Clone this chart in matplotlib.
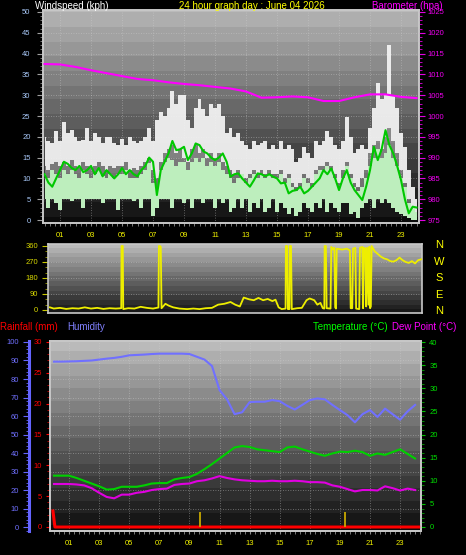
import numpy as np
import matplotlib.pyplot as plt
from matplotlib.ticker import MultipleLocator

W, H = 466, 555
plt.rcParams['font.family'] = ['Liberation Sans', 'DejaVu Sans']

# ---- wind (kph), 15-minute samples 00:00 .. 24:00
wind_hours = np.arange(0, 24.01, 0.25)
gust_hi = [20, 19, 18.5, 21.5, 19, 23.6, 21, 21.6, 20, 19, 19.2, 22,
           19, 21, 20, 18.5, 20, 20, 18.5, 18, 19.5, 18, 20, 19,
           18.5, 19, 20, 22, 19, 24, 26, 25, 27, 31, 28, 30,
           30, 24, 22, 27, 29, 26.6, 25, 28, 27, 28, 25, 21,
           22, 20, 21, 19, 18, 17, 19, 18, 18.6, 19, 17, 18,
           17, 19, 17, 18, 17, 14, 15, 17.6, 16, 15, 19, 18,
           19, 21.5, 20, 18, 17, 19, 24.8, 20, 16, 17, 18, 17,
           22, 27, 33, 29, 30, 42, 30, 27, 21, 17.6, 12, 8, 5]
gust_lo = [13, 12, 13.5, 14, 13, 14, 13, 14.5, 13, 12.5, 14, 13,
           12.5, 13, 14, 13, 12, 13, 12.5, 13, 13, 14, 12, 12.5,
           12, 13, 14, 15, 12, 10, 14, 16, 17, 18, 16, 17,
           15, 14, 17, 18, 16, 17, 15, 16, 15, 16, 14, 13,
           12, 11, 12, 11, 10, 11, 12, 11, 12, 11, 12, 11,
           11, 12, 10, 11, 9, 8, 9, 11, 10, 9, 12, 13,
           13, 14, 13, 11, 9, 12, 14, 11, 9, 8, 10, 12,
           16, 18, 19, 17, 20, 22, 19, 16, 12, 9, 5, 3, 2]
wind_hi = [11, 10, 12, 11, 10, 12, 11, 12, 11, 10, 12, 11,
           10, 11, 12, 10.5, 10, 11, 10, 11, 11, 12, 10, 10,
           10, 11, 12, 13.7, 9, 8, 12, 14, 15, 14.5, 13, 14,
           14, 12, 14, 15, 14, 15, 13, 14, 13, 14, 12, 11,
           10, 9, 10, 11, 9, 10, 11, 10, 11, 10, 11, 10,
           10, 11, 9, 10, 8, 7, 8, 10, 9, 8, 11, 12,
           12, 13, 12, 10, 8, 10, 13, 10, 8, 7, 8, 10,
           13, 15, 17, 15, 16, 18, 15, 13, 10, 8, 4, 3, 2]
wind_lo = [5, 3, 5, 4, 2.5, 5, 5, 4.5, 5, 5, 3, 5,
           5, 5, 5, 4, 5, 5, 5, 2.5, 5, 5, 5, 4.5,
           5, 3, 5, 5, 1, 3, 5, 5, 5, 3, 5, 5,
           4, 5, 3, 5, 5, 4, 5, 5, 3, 5, 4, 5,
           2, 3, 5, 3, 5, 2, 4, 3, 5, 2, 3, 5,
           2, 4, 3, 1.5, 3, 1, 2, 4, 3, 2, 4, 3,
           5, 2, 4, 3, 2, 4, 4, 1.5, 2, 0.5, 3, 4,
           5, 3, 5, 4, 5, 4, 3, 2, 1.5, 1, 0.5, 0, 0]
wind_avg = [11, 9, 8, 10, 12, 14, 13.5, 12.5, 12, 13, 11.5, 12,
            13, 11, 12.5, 10.5, 12, 11, 10, 11, 12.5, 11, 12, 11,
            10.5, 12, 13, 15, 14, 6, 12, 14, 16, 19, 16.8, 17,
            17.6, 14.4, 16, 18.4, 18, 16.5, 16, 15, 14.4, 15, 16, 14,
            10.4, 11, 11.2, 10, 9, 8, 9.5, 11.2, 11, 10.5, 11, 10.4,
            10, 8.8, 9, 6.4, 7, 7.2, 8, 6.4, 7, 8, 9, 10,
            12, 11, 12.4, 10, 7.2, 10, 12, 9, 7.2, 6, 4.8, 8,
            12, 17.6, 14.4, 17, 21.6, 18, 16, 13, 9.6, 5, 1.6, 3.2, 3]

# ---- barometer (hPa), hourly
baro_hours = list(range(25))
baro = [1012.5, 1012.4, 1011.8, 1011.0, 1010.3, 1009.6, 1008.9, 1008.6, 1008.1,
        1007.7, 1007.4, 1007.0, 1006.6, 1005.9, 1004.4, 1004.5, 1004.7, 1004.5,
        1003.6, 1003.6, 1004.5, 1005.2, 1005.2, 1004.6, 1004.3]

# ---- wind direction (degrees)
dir_hours = [0.35, 0.6, 1.0, 1.4, 1.8, 2.2, 2.6, 3.0, 3.4, 3.8, 4.2, 4.6, 4.95, 4.97,
             5.05, 5.08, 5.4, 5.8, 6.2, 6.6, 7.0, 7.35, 7.38, 7.45, 7.5, 7.55, 7.8, 8.0,
             8.3, 8.7, 9.2, 9.6, 10.0, 10.4, 10.8, 11.2, 11.6, 12.0, 12.3, 12.6, 12.85,
             13.2, 13.5, 13.8, 14.1, 14.4, 14.7, 14.9, 15.1, 15.3, 15.55, 15.57, 15.65,
             15.7, 15.8, 15.82, 15.9, 15.95, 16.3, 16.6, 16.9, 17.1, 17.4, 17.6, 17.8,
             17.95, 18.05, 18.07, 18.15, 18.2, 18.45, 18.5, 18.6, 18.7, 18.75, 18.8,
             18.85, 19.2, 19.5, 19.7, 19.75, 19.85, 19.9, 20.05, 20.1, 20.3, 20.35,
             20.5, 20.55, 20.6, 20.7, 20.75, 20.8, 20.9, 20.95, 21.0, 21.05, 21.1,
             21.3, 21.5, 21.7, 21.9, 22.1, 22.3, 22.5, 22.7, 22.9, 23.1, 23.3, 23.5,
             23.7, 23.9, 24.1, 24.3]
dir_deg = [15, 8, 12, 6, 10, 8, 15, 8, 12, 6, 10, 8, 10, 360,
           360, 5, 10, 8, 18, 12, 8, 14, 360, 360, 355, 10, 35, 25,
           15, 8, 5, 8, 5, 10, 12, 30, 35, 45, 30, 20, 70,
           60, 55, 68, 55, 62, 50, 58, 15, 5, 8, 360, 360,
           5, 5, 360, 360, 5, 10, 12, 55, 65, 55, 30, 40,
           10, 8, 360, 360, 10, 8, 355, 340, 350, 15, 8,
           345, 340, 345, 335, 10, 10, 345, 350, 8, 5, 350,
           355, 10, 350, 345, 20, 350, 30, 355, 10, 20, 360,
           330, 315, 300, 290, 285, 275, 272, 280, 295, 280, 270, 265,
           275, 262, 280, 285]

# ---- humidity, temperature, dew point: half-hourly
th_hours = np.arange(0, 24.01, 0.5)
humidity = [89.4, 89.4, 89.5, 89.6, 89.8, 90, 90.5, 91, 91.4, 92, 92.8, 93, 93.2,
            93.5, 93.7, 93.7, 93.7, 93.7, 93.5, 92, 90.5, 87, 74, 69, 61, 62, 67.5,
            67.7, 67.7, 68.6, 68, 65.5, 63.5, 66, 68.6, 69.5, 69, 66, 63.2, 60.5,
            56.6, 61, 63.2, 59.5, 64, 61, 58, 62.5, 66]
temperature = [11.1, 11.1, 11.1, 10.6, 10.0, 9.4, 8.8, 8.1, 8.2, 8.7, 8.7, 8.7, 9.0,
               9.4, 9.5, 9.5, 10.3, 10.6, 10.8, 11.5, 12.5, 13.6, 14.8, 16.0, 17.2,
               17.5, 17.3, 16.8, 16.6, 16.4, 16.2, 17.2, 17.4, 16.8, 16.3, 15.8, 15.4,
               15.9, 16.3, 16.2, 16.5, 16.2, 15.4, 15.9, 15.6, 16.2, 16.8, 15.8, 14.8]
dew_point = [9.3, 9.3, 9.3, 9.2, 9.0, 8.4, 7.4, 6.5, 6.2, 7.0, 7.0, 7.4, 7.6, 8.0,
             8.2, 8.3, 9.1, 9.3, 9.4, 9.9, 10.1, 10.5, 11.0, 10.6, 10.3, 10.1, 10.0,
             9.9, 9.9, 10.0, 9.9, 9.9, 10.0, 9.9, 9.7, 9.7, 9.6, 9.0, 8.7, 8.2, 7.7,
             8.0, 8.0, 7.9, 8.8, 8.4, 7.9, 8.3, 8.0]
rain_hours = [-0.07, 0.06, 24.4]
rain_mm = [2.6, 0.0, 0.0]
mark_hours = [9.7, 19.35]
mark_mm = [2.5, 2.5]

hour_ticks = list(range(1, 24, 2))
hour_labels = ['%02d' % h for h in hour_ticks]


def rect(l, t, r, b):
    return [l / W, 1 - b / H, (r - l) / W, (b - t) / H]


def ftext(x, y, s, color, size=7, ha='left'):
    fig.text(x / W, 1 - y / H, s, color=color, fontsize=size, ha=ha, va='center')


def backdrop(ax, top, bottom):
    g = np.round(np.linspace(top, bottom, 200) * 22) / 22
    x0, x1 = ax.get_xlim()
    y0, y1 = ax.get_ylim()
    ax.imshow(g[:, None], extent=[x0, x1, y0, y1], aspect='auto', cmap='gray',
              vmin=0, vmax=1, interpolation='nearest', zorder=0)


def frame(ax):
    for s in ax.spines.values():
        s.set_color('#c8c8c8')
        s.set_linewidth(1.2)


GRID = dict(color='#d0d0d0', lw=0.6, ls=(0, (1, 2)), alpha=0.55, zorder=1)

fig = plt.figure(figsize=(W / 100, H / 100), dpi=100, facecolor='black')

# ================= windspeed / barometer =================
ax1 = fig.add_axes(rect(43, 10, 419, 223))
ax1.set_xlim(-0.097, 24.16)
ax1.set_ylim(-0.72, 50.48)
backdrop(ax1, 0.71, 0.05)
for v in range(5, 50, 5):
    ax1.axhline(v, **GRID)
for h in hour_ticks:
    ax1.axvline(h, **GRID)
ax1.fill_between(wind_hours, wind_lo, wind_hi, step='mid', color='#bdeebd', lw=0, zorder=2)
ax1.fill_between(wind_hours, wind_hi, gust_hi, step='mid', color='#f2f2f2', lw=0,
                 alpha=0.35, zorder=3)
ax1.fill_between(wind_hours, gust_lo, gust_hi, step='mid', color='#f4f4f4', lw=0,
                 alpha=0.9, zorder=3)
ax1.plot(wind_hours, wind_avg, color='#00c800', lw=1.5, zorder=4)
ax1.set_xticks(hour_ticks, hour_labels)
ax1.xaxis.set_minor_locator(MultipleLocator(1 / 3))
ax1.tick_params(axis='x', which='both', colors='#8c8c8c', length=2.5, labelcolor='#f0f000',
                labelsize=5.5, pad=4)
ax1.set_yticks(range(0, 51, 5))
ax1.yaxis.set_minor_locator(MultipleLocator(1))
ax1.tick_params(axis='y', which='major', colors='#a0a0a0', length=4, labelcolor='#a8c8f8',
                labelsize=5.5, pad=5)
ax1.tick_params(axis='y', which='minor', colors='#8c8c8c', length=2.5)
frame(ax1)

ax1b = ax1.twinx()
ax1b.set_ylim(974.28, 1025.48)
ax1b.plot(baro_hours, baro, color='#ff00ff', lw=1.5, zorder=5)
ax1b.set_yticks(range(975, 1026, 5))
ax1b.yaxis.set_minor_locator(MultipleLocator(1))
ax1b.tick_params(axis='y', which='major', colors='#e000e0', length=4, labelcolor='#f000f0',
                 labelsize=5.5, pad=2)
ax1b.tick_params(axis='y', which='minor', colors='#e000e0', length=2)
frame(ax1b)

ftext(35, 6, 'Windspeed (kph)', 'white')
ftext(252, 6, '24 hour graph day : June 04 2026', '#ffff00', ha='center')
ftext(372, 6, 'Barometer (hpa)', '#ff00ff')

# ================= wind direction =================
ax2 = fig.add_axes(rect(48, 244, 422, 313))
ax2.set_xlim(0.226, 24.35)
ax2.set_ylim(-16.9, 371.25)
backdrop(ax2, 0.74, 0.08)
for v in (90, 180, 270):
    ax2.axhline(v, **GRID)
ax2.plot(dir_hours, dir_deg, color='#eeee00', lw=1.3, zorder=3)
ax2.set_xticks([])
ax2.set_yticks([0, 90, 180, 270, 360])
ax2.yaxis.set_minor_locator(MultipleLocator(30))
ax2.tick_params(axis='y', which='major', colors='#c8c800', length=4, labelcolor='#d8d800',
                labelsize=5.5, pad=3)
ax2.tick_params(axis='y', which='minor', colors='#a0a000', length=2)
frame(ax2)
for lab, y in zip(['N', 'W', 'S', 'E', 'N'], [245, 262, 278, 295, 311]):
    ftext(439, y, lab, '#ffff00', size=8, ha='center')

# ================= humidity / rain / temperature =================
ax3 = fig.add_axes(rect(50, 341, 421, 531))
ax3.set_xlim(-0.266, 24.39)
ax3.set_ylim(-2.16, 100.54)
backdrop(ax3, 0.74, 0.05)
for v in range(10, 100, 10):
    ax3.axhline(v, **GRID)
for h in hour_ticks:
    ax3.axvline(h, **GRID)
ax3.plot(th_hours, humidity, color='#7070ff', lw=1.5, zorder=4)
ax3.set_xticks(hour_ticks, hour_labels)
ax3.xaxis.set_minor_locator(MultipleLocator(1 / 3))
ax3.tick_params(axis='x', which='both', colors='#8c8c8c', length=2.5, labelcolor='#f0f000',
                labelsize=5.5, pad=4)
ax3.set_yticks(range(0, 101, 10))
ax3.yaxis.set_minor_locator(MultipleLocator(2))
ax3.tick_params(axis='y', which='major', colors='#6464ff', length=4, labelcolor='#7070ff',
                labelsize=5.5, pad=3)
ax3.tick_params(axis='y', which='minor', colors='#6464ff', length=2)
frame(ax3)
ax3.spines['left'].set_position(('axes', -21 / 371))
ax3.spines['left'].set_color('#6464ff')
ax3.spines['left'].set_linewidth(2.2)

ax3r = ax3.twinx()
ax3r.set_ylim(-0.65, 30.16)
ax3r.yaxis.set_ticks_position('left')
ax3r.plot(rain_hours, rain_mm, color='#ff0000', lw=2.2, zorder=5)
ax3r.vlines(mark_hours, 0, mark_mm, color='#c8a800', lw=1.3, zorder=6)
ax3r.set_yticks(range(0, 31, 5))
ax3r.yaxis.set_minor_locator(MultipleLocator(1))
ax3r.tick_params(axis='y', which='major', colors='#ff0000', length=3, labelcolor='#ff0000',
                 labelsize=5.5, pad=3)
ax3r.tick_params(axis='y', which='minor', colors='#d00000', length=2)
frame(ax3r)

ax3t = ax3.twinx()
ax3t.set_ylim(-0.865, 40.22)
ax3t.plot(th_hours, temperature, color='#00d000', lw=1.5, zorder=5)
ax3t.plot(th_hours, dew_point, color='#e000e0', lw=1.5, zorder=5)
ax3t.set_yticks(range(0, 41, 5))
ax3t.yaxis.set_minor_locator(MultipleLocator(1))
ax3t.tick_params(axis='y', which='major', colors='#00c000', length=3, labelcolor='#00e000',
                 labelsize=5.5, pad=3)
ax3t.tick_params(axis='y', which='minor', colors='#00a000', length=2)
frame(ax3t)

ftext(0, 327, 'Rainfall (mm)', '#ff0000')
ftext(67, 327, 'Humidity', '#8080ff')
ftext(313, 327, 'Temperature (\u00b0C)', '#00ff00')
ftext(392, 327, 'Dew Point (\u00b0C)', '#ff00ff')

fig.savefig('out.png', dpi=100, facecolor='black')
